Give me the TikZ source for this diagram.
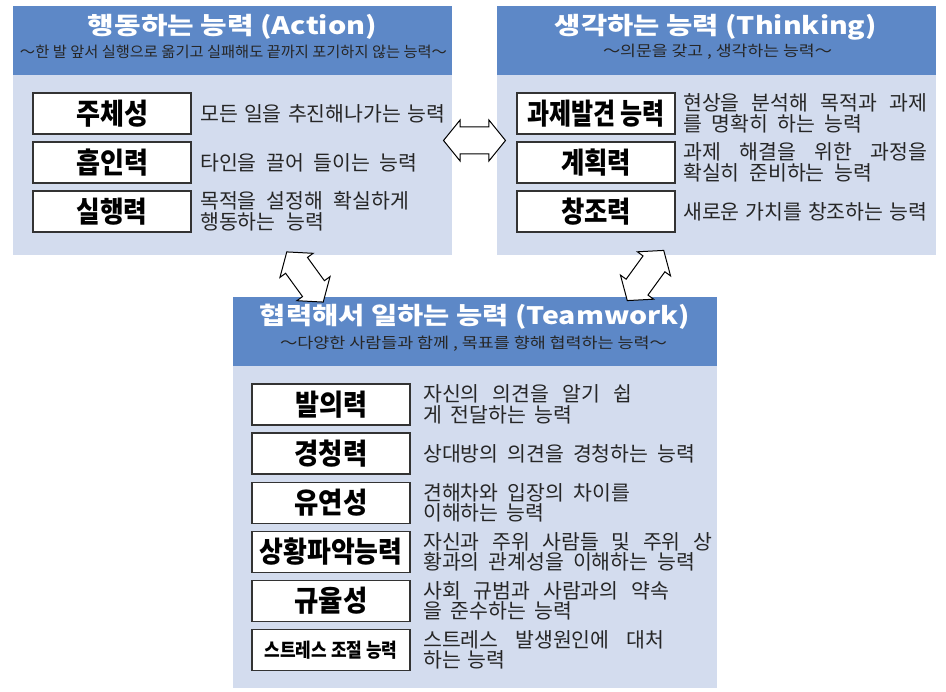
\documentclass[tikz,border=0pt]{standalone}
\usepackage{fontspec}
\usepackage{graphicx}
\setmainfont{Noto Sans CJK KR}
\usetikzlibrary{shapes.arrows}

\definecolor{hdrblue}{HTML}{5D88C7}
\definecolor{bodyblue}{HTML}{D3DCEE}
\definecolor{boxline}{HTML}{333333}
\definecolor{desctext}{HTML}{262626}

% text squeezed or widened to a set width, keeping its height
\newcommand{\fitw}[2]{\resizebox{#1}{\height}{#2}}
% one line of description, spaces stretched to a set width
\newcommand{\dline}[2]{\makebox[#1][s]{#2}}

\tikzset{
  hdrfill/.style={fill=hdrblue},
  bodyfill/.style={fill=bodyblue},
  paneltitle/.style={text=white, font=\bfseries\fontsize{24}{26}\selectfont, inner sep=0pt},
  panelsub/.style={text=black!85, font=\fontsize{15}{17}\selectfont, inner sep=0pt},
  abilitybox/.style={draw=boxline, line width=1.2pt, fill=white,
    minimum width=158pt, minimum height=41pt, inner sep=0pt,
    font=\bfseries\fontsize{29}{30}\selectfont},
  desc/.style={anchor=west, inner sep=0pt, align=left, text=desctext,
    font=\fontsize{20.5}{20.5}\selectfont},
  linkarrow/.style={shape=double arrow, draw=black, fill=white, line width=1pt,
    minimum height=62pt, inner xsep=0pt, inner ysep=13pt,
    double arrow head extend=7pt, double arrow tip angle=102}
}

\begin{document}
\begin{tikzpicture}[x=1pt, y=-1pt]
\useasboundingbox (0,0) rectangle (946,692);

% ---------- Action panel ----------
\path[bodyfill] (13,6) rectangle (452,255);
\path[hdrfill] (13,6) rectangle (452,75);
\node[paneltitle] (actT) at (232.5,27) {\fitw{289pt}{행동하는 능력 (Action)}};
\node[panelsub] (actS) at (233.5,52) {\fitw{427pt}{～한 발 앞서 실행으로 옮기고 실패해도 끝까지 포기하지 않는 능력～}};

\node[abilitybox] (a1) at (112,113.5) {\fitw{72pt}{주체성}};
\node[abilitybox] (a2) at (112,162.5) {\fitw{72pt}{흡인력}};
\node[abilitybox] (a3) at (112,211.5) {\fitw{71pt}{실행력}};
\node[desc] (a1d) at (200,113.5) {\dline{245pt}{모든 일을 추진해나가는 능력}};
\node[desc] (a2d) at (200,162.5) {\dline{217pt}{타인을 끌어 들이는 능력}};
\node[desc] (a3d) at (200,211.5) {\dline{209pt}{목적을 설정해 확실하게}\\\dline{124pt}{행동하는 능력}};

% ---------- Thinking panel ----------
\path[bodyfill] (497,6) rectangle (936,255);
\path[hdrfill] (497,6) rectangle (936,75);
\node[paneltitle] (thkT) at (716,27) {\fitw{322pt}{생각하는 능력 (Thinking)}};
\node[panelsub] (thkS) at (717.5,52) {\fitw{229pt}{～의문을 갖고 , 생각하는 능력～}};

\node[abilitybox] (t1) at (596,113.5) {\fitw{138pt}{과제발견 능력}};
\node[abilitybox] (t2) at (596,162.5) {\fitw{70pt}{계획력}};
\node[abilitybox] (t3) at (596,211.5) {\fitw{70pt}{창조력}};
\node[desc] (t1d) at (683,113.5) {\dline{244pt}{현상을 분석해 목적과 과제}\\\dline{179pt}{를 명확히 하는 능력}};
\node[desc] (t2d) at (683,162.5) {\dline{244pt}{과제 해결을 위한 과정을}\\\dline{189pt}{확실히 준비하는 능력}};
\node[desc] (t3d) at (683,211.5) {\dline{244pt}{새로운 가치를 창조하는 능력}};

% ---------- Teamwork panel ----------
\path[bodyfill] (233,297) rectangle (717,688);
\path[hdrfill] (233,297) rectangle (717,366);
\node[paneltitle] (tmT) at (475,317) {\fitw{430pt}{협력해서 일하는 능력 (Teamwork)}};
\node[panelsub] (tmS) at (473.5,344) {\fitw{387pt}{～다양한 사람들과 함께 , 목표를 향해 협력하는 능력～}};

\node[abilitybox] (w1) at (331,404.5) {\fitw{72pt}{발의력}};
\node[abilitybox] (w2) at (331,453.5) {\fitw{73pt}{경청력}};
\node[abilitybox] (w3) at (331,503) {\fitw{73pt}{유연성}};
\node[abilitybox] (w4) at (331,552) {\fitw{143pt}{상황파악능력}};
\node[abilitybox] (w5) at (331,601) {\fitw{73pt}{규율성}};
\node[abilitybox, font=\bfseries\fontsize{19.5}{21}\selectfont] (w6) at (331,650) {\fitw{133pt}{스트레스 조절 능력}};
\node[desc] (w1d) at (423,404.5) {\dline{209pt}{자신의 의견을 알기 쉽}\\\dline{149pt}{게 전달하는 능력}};
\node[desc] (w2d) at (423,453.5) {\dline{272pt}{상대방의 의견을 경청하는 능력}};
\node[desc] (w3d) at (423,503) {\dline{207pt}{견해차와 입장의 차이를}\\\dline{121pt}{이해하는 능력}};
\node[desc] (w4d) at (423,552) {\dline{289pt}{자신과 주위 사람들 및 주위 상}\\\dline{272pt}{황과의 관계성을 이해하는 능력}};
\node[desc] (w5d) at (423,601) {\dline{246pt}{사회 규범과 사람과의 약속}\\\dline{149pt}{을 준수하는 능력}};
\node[desc] (w6d) at (423,650) {\dline{241pt}{스트레스 발생원인에 대처}\\\dline{82pt}{하는 능력}};

% ---------- links between the panels ----------
\node[linkarrow] (linkAT) at (474.5,140.5) {};
\node[linkarrow, rotate=-54] (linkAW) at (305,277) {};
\node[linkarrow, rotate=54] (linkTW) at (645.5,275.5) {};
\end{tikzpicture}
\end{document}
